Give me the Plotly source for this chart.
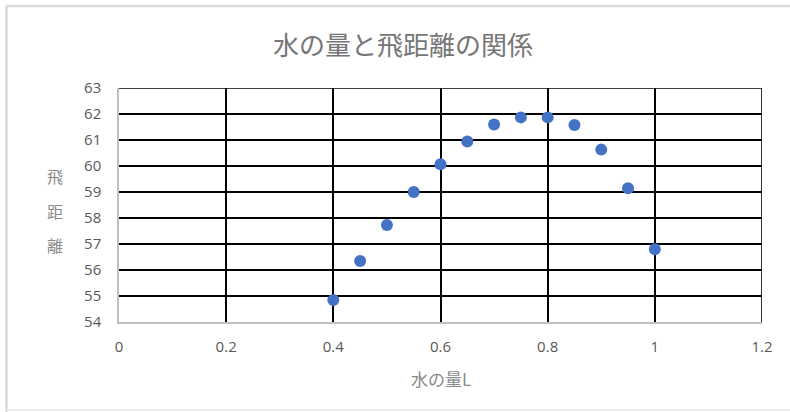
import plotly.graph_objects as go

# 水の量 (L) と飛距離 (m)
water = [0.40, 0.45, 0.50, 0.55, 0.60, 0.65, 0.70, 0.75, 0.80, 0.85, 0.90, 0.95, 1.00]
distance = [54.85, 56.35, 57.73, 59.0, 60.07, 60.94, 61.6, 61.87, 61.87, 61.58, 60.63, 59.14, 56.8]

title_text = "水の量と飛距離の関係"
x_title = "水の量L"
y_title_chars = ["飛", "距", "離"]

W, H = 790, 412
L, R, T, B = 118.6, 28, 88, 90
pw, ph = W - L - R, H - T - B


def px(x):
    return (x - L) / pw


def py(y):
    return (H - B - y) / ph


fig = go.Figure()
fig.add_trace(go.Scatter(
    x=water, y=distance, mode="markers",
    marker=dict(color="#4472C4", size=12, line=dict(width=0)),
    showlegend=False, cliponaxis=False,
))

tick_font = dict(family="Open Sans, Noto Sans, sans-serif", size=15, color="#595959")
grid_w = 1.6

fig.update_xaxes(
    range=[0, 1.2], tickvals=[0, 0.2, 0.4, 0.6, 0.8, 1.0, 1.2],
    ticktext=["0", "0.2", "0.4", "0.6", "0.8", "1", "1.2"],
    showgrid=True, gridcolor="black", gridwidth=grid_w,
    showline=True, linecolor="#bfbfbf", linewidth=1.5,
    zeroline=False, ticks="", ticklabelstandoff=10,
    tickfont=tick_font,
)
fig.update_yaxes(
    range=[54, 63], dtick=1,
    showgrid=True, gridcolor="black", gridwidth=grid_w,
    showline=True, linecolor="#bfbfbf", linewidth=1.5,
    zeroline=False, ticks="", ticklabelstandoff=13,
    tickfont=tick_font,
)

annotations = [
    dict(text=title_text, x=px(403), y=py(43), xref="paper", yref="paper",
         showarrow=False, xanchor="center", yanchor="middle",
         font=dict(family="Noto Sans CJK JP", size=26, color="#767676")),
    dict(text=x_title, x=0.5, y=py(378), xref="paper", yref="paper",
         showarrow=False, xanchor="center", yanchor="middle",
         font=dict(family="Noto Sans CJK JP", size=17, color="#8a8a8a")),
]
for ch, yc in zip(y_title_chars, [176, 211, 245]):
    annotations.append(dict(text=ch, x=px(55), y=py(yc), xref="paper", yref="paper",
                            showarrow=False, xanchor="center", yanchor="middle",
                            font=dict(family="Noto Sans CJK JP", size=16, color="#8a8a8a")))

# grid lines on the far edges of the plot area (top and right)
edge = dict(type="line", line=dict(color="black", width=grid_w), layer="below")
shapes = [
    dict(edge, xref="x domain", yref="y", x0=0, x1=1, y0=63, y1=63),
    dict(edge, xref="x", yref="y domain", x0=1.2, x1=1.2, y0=0, y1=1),
]

# outer chart frame
frame = dict(type="line", xref="paper", yref="paper",
             line=dict(color="#d9d9d9", width=2.5), layer="below")
shapes += [
    dict(frame, x0=px(6), x1=px(W + 5), y0=py(6), y1=py(6)),
    dict(frame, x0=px(6), x1=px(6), y0=py(6), y1=py(H + 5)),
    dict(frame, x0=px(6), x1=px(W + 5), y0=py(410), y1=py(410), line=dict(color="#eeeeee", width=2)),
]

fig.update_layout(
    width=W, height=H,
    margin=dict(l=L, r=R, t=T, b=B),
    paper_bgcolor="white", plot_bgcolor="white",
    annotations=annotations, shapes=shapes,
)

fig.write_html("out.html")
